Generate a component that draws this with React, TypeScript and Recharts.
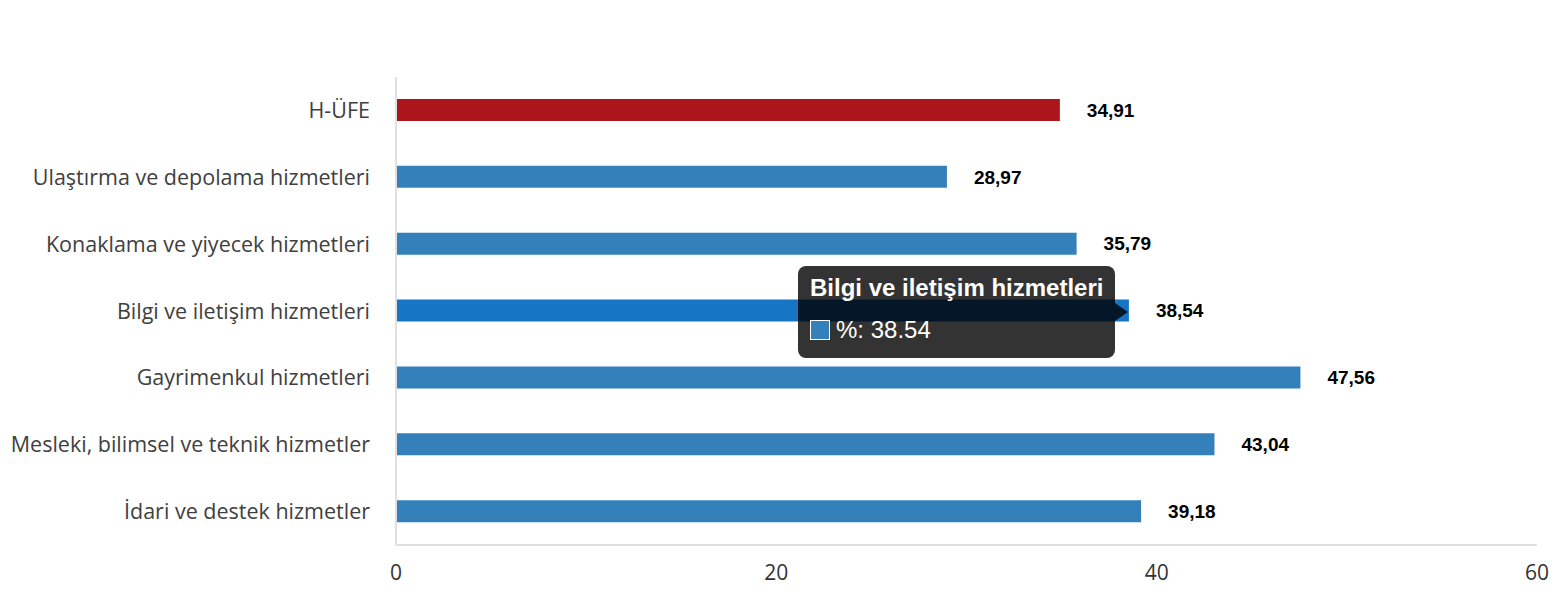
import { Bar, BarChart, Cell, LabelList, Tooltip, XAxis, YAxis } from "recharts";

const categories = [
  "H-ÜFE",
  "Ulaştırma ve depolama hizmetleri",
  "Konaklama ve yiyecek hizmetleri",
  "Bilgi ve iletişim hizmetleri",
  "Gayrimenkul hizmetleri",
  "Mesleki, bilimsel ve teknik hizmetler",
  "İdari ve destek hizmetler",
];

const values = [34.91, 28.97, 35.79, 38.54, 47.56, 43.04, 39.18];

const xTicks = [0, 20, 40, 60];

const totalIndex = 0;
const hoverIndex = 3;

const data = categories.map((name, i) => ({ name, value: values[i] }));

const BLUE = "#3380bb";
const BLUE_HOVER = "#1675c5";
const RED = "#ab161c";

function barColor(index: number) {
  if (index === totalIndex) return RED;
  if (index === hoverIndex) return BLUE_HOVER;
  return BLUE;
}

function TooltipBox({ active, payload, label }: any) {
  if (!active || !payload || !payload.length) return null;
  return (
    <div style={{ position: "relative" }}>
      <div
        style={{
          width: 317,
          height: 92,
          boxSizing: "border-box",
          background: "rgba(0,0,0,0.8)",
          borderRadius: 8,
          padding: "8px 12px",
          fontFamily: "'Liberation Sans', Arial, sans-serif",
          color: "#fff",
        }}
      >
        <div style={{ fontWeight: "bold", fontSize: 24, lineHeight: "28px", whiteSpace: "nowrap" }}>{label}</div>
        <div style={{ display: "flex", alignItems: "center", marginTop: 16, fontSize: 24, lineHeight: "24px" }}>
          <span
            style={{
              display: "inline-block",
              width: 18,
              height: 18,
              background: BLUE,
              border: "1px solid #fff",
              marginRight: 6,
            }}
          />
          %: {payload[0].value}
        </div>
      </div>
      <div
        style={{
          position: "absolute",
          left: 317,
          top: 37,
          width: 0,
          height: 0,
          borderTop: "9px solid transparent",
          borderBottom: "9px solid transparent",
          borderLeft: "13px solid rgba(0,0,0,0.8)",
        }}
      />
    </div>
  );
}

export default function App() {
  return (
    <div style={{ position: "absolute", left: 0, top: 0, width: 1556, height: 600, background: "#fff" }}>
      <BarChart
        width={1556}
        height={600}
        data={data}
        layout="vertical"
        margin={{ top: 77, right: 19, bottom: 0, left: 0 }}
        barSize={22}
      >
        <XAxis
          type="number"
          domain={[0, 60]}
          ticks={xTicks}
          height={55}
          axisLine={{ stroke: "#e0e0e0", strokeWidth: 2 }}
          tickLine={false}
          tickMargin={14}
          tick={{ fill: "#333", fontSize: 21, fontFamily: "'Open Sans', sans-serif" }}
        />
        <YAxis
          type="category"
          dataKey="name"
          width={396}
          axisLine={{ stroke: "#e0e0e0", strokeWidth: 2 }}
          tickLine={false}
          tickMargin={20}
          interval={0}
          tick={{ fill: "#404040", fontSize: 21.5, fontFamily: "'Open Sans', sans-serif" }}
        />
        <Tooltip
          active
          defaultIndex={hoverIndex}
          cursor={false}
          position={{ x: 798, y: 266 }}
          content={<TooltipBox />}
          wrapperStyle={{ outline: "none" }}
          isAnimationActive={false}
        />
        <Bar dataKey="value" isAnimationActive={false} activeBar={false}>
          {data.map((d, i) => (
            <Cell key={d.name} fill={barColor(i)} />
          ))}
          <LabelList
            dataKey="value"
            position="right"
            offset={27}
            formatter={(v: any) => Number(v).toFixed(2).replace(".", ",")}
            style={{ fill: "#000", fontSize: 19, fontWeight: "bold", fontFamily: "'Liberation Sans', Arial, sans-serif" }}
          />
        </Bar>
      </BarChart>
    </div>
  );
}
